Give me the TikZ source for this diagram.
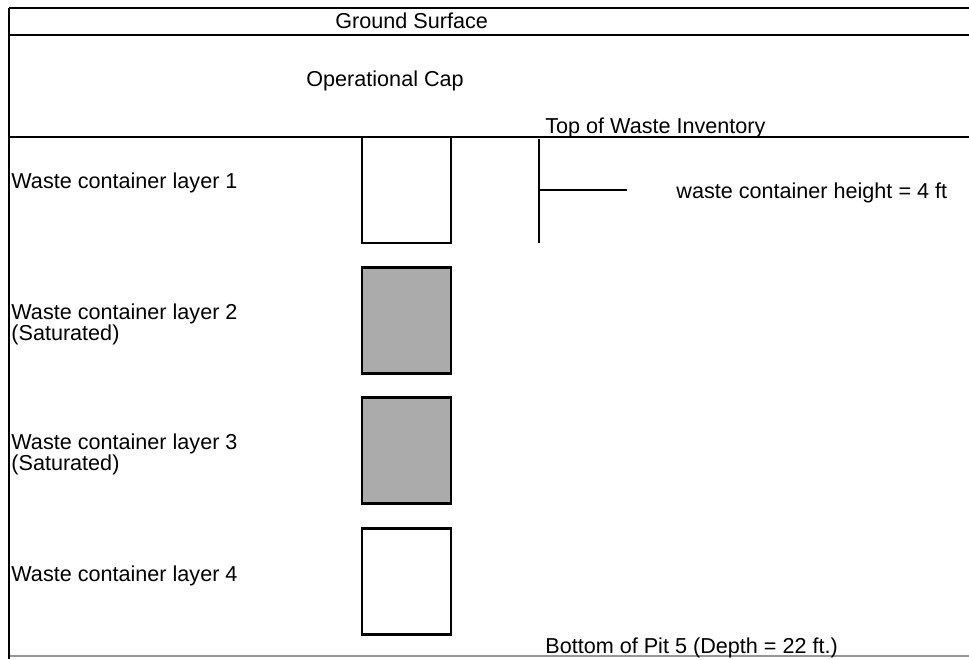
\documentclass[tikz,border=0pt]{standalone}
\usepackage{fontspec}
\setmainfont{Liberation Sans}
\usetikzlibrary{positioning,calc}
\definecolor{pitgray}{RGB}{150,150,150}
\tikzset{
  layerline/.style={draw=black,line width=0.6pt},
  surfline/.style={draw=black,line width=1.3pt},
  container/.style={
    draw=black,
    line width=1.4pt,
    fill=white,
    minimum width=44.5pt,
    minimum height=53pt,
    inner sep=0pt
  },
  saturated/.style={container,fill=black!33},
  lbl/.style={anchor=base west,inner sep=0pt,font=\fontsize{10.8}{13}\selectfont,align=left}
}
\begin{document}
\begin{tikzpicture}[x=0.5pt,y=-0.5pt]
  \useasboundingbox (0,0) rectangle (969,659);
  % pit outline and layer boundaries
  \coordinate (tl) at (9,8);
  \coordinate (bl) at (9,659);
  \draw[surfline] (tl) -- (969,8);
  \draw[surfline] (9,35) -- (969,35);
  \draw[layerline] (9,137) -- (969,137);
  \draw[draw=pitgray,line width=0.6pt] (9,656) -- (969,656);
  \draw[line width=0.9pt] (tl) -- (bl);
  % containers
  \node[container] (box1) at (406.5,190) {};
  \node[saturated] (box2) at (406.5,320.5) {};
  \node[saturated] (box3) at (406.5,450.5) {};
  \node[container] (box4) at (406.5,581.5) {};
  % height marker
  \coordinate (htop) at (539,139);
  \coordinate (hbot) at (539,243);
  \coordinate (hmid) at (539,190);
  \coordinate (hend) at (627,190);
  \draw[line width=0.6pt] (htop) -- (hbot);
  \draw[line width=0.6pt] (hmid) -- (hend);
  % labels
  \node[lbl] (ground) at (335,28) {Ground Surface};
  \node[lbl] (cap) at (306,86) {Operational Cap};
  \node[lbl] (topinv) at (545,133) {Top of Waste Inventory};
  \node[lbl] (height) at (676,198) {waste container height = 4 ft};
  \node[lbl] (lay1) at (11,188) {Waste container layer 1};
  \node[lbl] (lay2) at (11,319) {Waste container layer 2};
  \node[lbl] (sat2) at (11,340) {(Saturated)};
  \node[lbl] (lay3) at (11,449) {Waste container layer 3};
  \node[lbl] (sat3) at (11,470) {(Saturated)};
  \node[lbl] (lay4) at (11,581) {Waste container layer 4};
  \node[lbl] (bottom) at (545,653) {Bottom of Pit 5 (Depth = 22 ft.)};
\end{tikzpicture}
\end{document}
